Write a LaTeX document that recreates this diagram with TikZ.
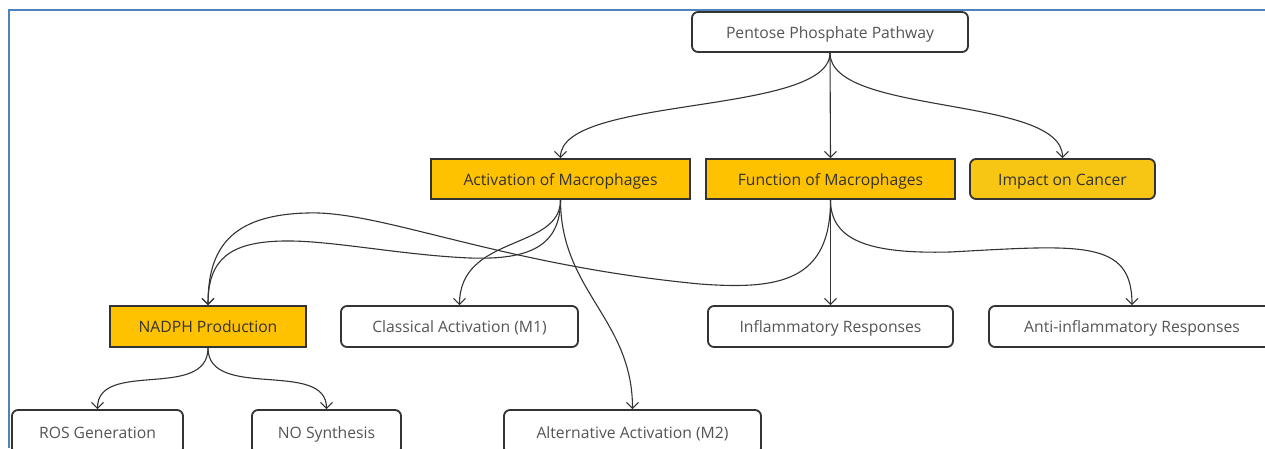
\documentclass[tikz,border=0pt]{standalone}
\usepackage{fontspec}
\setmainfont{Open Sans}
\usetikzlibrary{arrows.meta}
\definecolor{orng}{HTML}{FFC200}
\definecolor{orng2}{HTML}{F7C614}
\definecolor{bdr}{HTML}{333333}
\definecolor{txt}{HTML}{555555}
\definecolor{txtd}{HTML}{333333}
\definecolor{frm}{HTML}{4F81BD}
\tikzset{
  base/.style={draw=bdr, line width=1.8pt, inner sep=0pt, minimum height=40pt,
    text height=12.8pt, text depth=0.2pt,
    font=\fontsize{15.7}{18}\selectfont},
  wbox/.style={base, fill=white, rounded corners=6pt, text=txt},
  obox/.style={base, fill=orng, text=txtd},
  orbox/.style={base, fill=orng2, rounded corners=6pt, text=txtd},
  conn/.style={draw=bdr, line width=1.1pt, -{Straight Barb[length=6pt,width=12pt]}},
}
\begin{document}
\begin{tikzpicture}[x=1pt,y=-1pt]
\useasboundingbox (0,0) rectangle (1265,448);
\clip (0,0) rectangle (1265,448);
\fill[white] (0,0) rectangle (1265,448);
\draw[frm, line width=2pt] (9,448) -- (9,10) -- (1265,10);

\node[wbox, minimum width=276pt] (ppp) at (830,32) {Pentose Phosphate Pathway};

\node[obox, minimum width=259pt] (act) at (560.5,179) {Activation of Macrophages};
\node[obox, minimum width=249pt] (fun) at (830.5,179) {Function of Macrophages};
\node[orbox, minimum width=185pt] (imp) at (1062.5,179) {Impact on Cancer};

\node[obox, minimum width=196pt, minimum height=41pt] (nadph) at (208,326.5) {NADPH Production};
\node[wbox, minimum width=237pt, minimum height=41pt] (cls) at (459.5,326.5) {Classical Activation (M1)};
\node[wbox, minimum width=245pt, minimum height=41pt] (inf) at (830.5,326.5) {Inflammatory Responses};
\node[wbox, minimum width=286pt, minimum height=41pt] (anti) at (1132,326.5) {Anti-inflammatory Responses};

\node[wbox, minimum width=171pt, minimum height=44pt] (ros) at (97.5,432) {ROS Generation};
\node[wbox, minimum width=149pt, minimum height=44pt] (no) at (326.5,432) {NO Synthesis};
\node[wbox, minimum width=257pt, minimum height=44pt] (alt) at (632.5,432) {Alternative Activation (M2)};

% from PPP
\draw[conn] (ppp.south) .. controls +(0,63) and +(0,-63) .. (act.north);
\draw[conn] (ppp.south) -- (fun.north);
\draw[conn] (ppp.south) .. controls +(0,63) and +(0,-63) .. (imp.north);

% from Activation
\draw[conn] (act.south) .. controls +(0,46) and (530,260) .. (470,258)
  .. controls (400,255) and (330,240) .. (283,241)
  .. controls (230,242) and +(0,-46) .. (nadph.north);
\draw[conn] (act.south) .. controls +(0,51) and +(0,-71) .. (cls.north);
\draw[conn] (act.south) .. controls +(0,91) and +(0,-90) .. (alt.north);

% from Function
\draw[conn] (fun.south) .. controls +(0,81) and (780,290) .. (700,284)
  .. controls (500,265) and (380,210) .. (307,213)
  .. controls (230,215) and +(0,-56) .. (nadph.north);
\draw[conn] (fun.south) -- (inf.north);
\draw[conn] (fun.south) .. controls +(0,41) and (870,254) .. (950,252)
  .. controls (1080,245) and +(0,-66) .. (anti.north);

% from NADPH
\draw[conn] (nadph.south) .. controls +(0,53) and +(0,-50) .. (ros.north);
\draw[conn] (nadph.south) .. controls +(0,53) and +(0,-50) .. (no.north);
\end{tikzpicture}
\end{document}
